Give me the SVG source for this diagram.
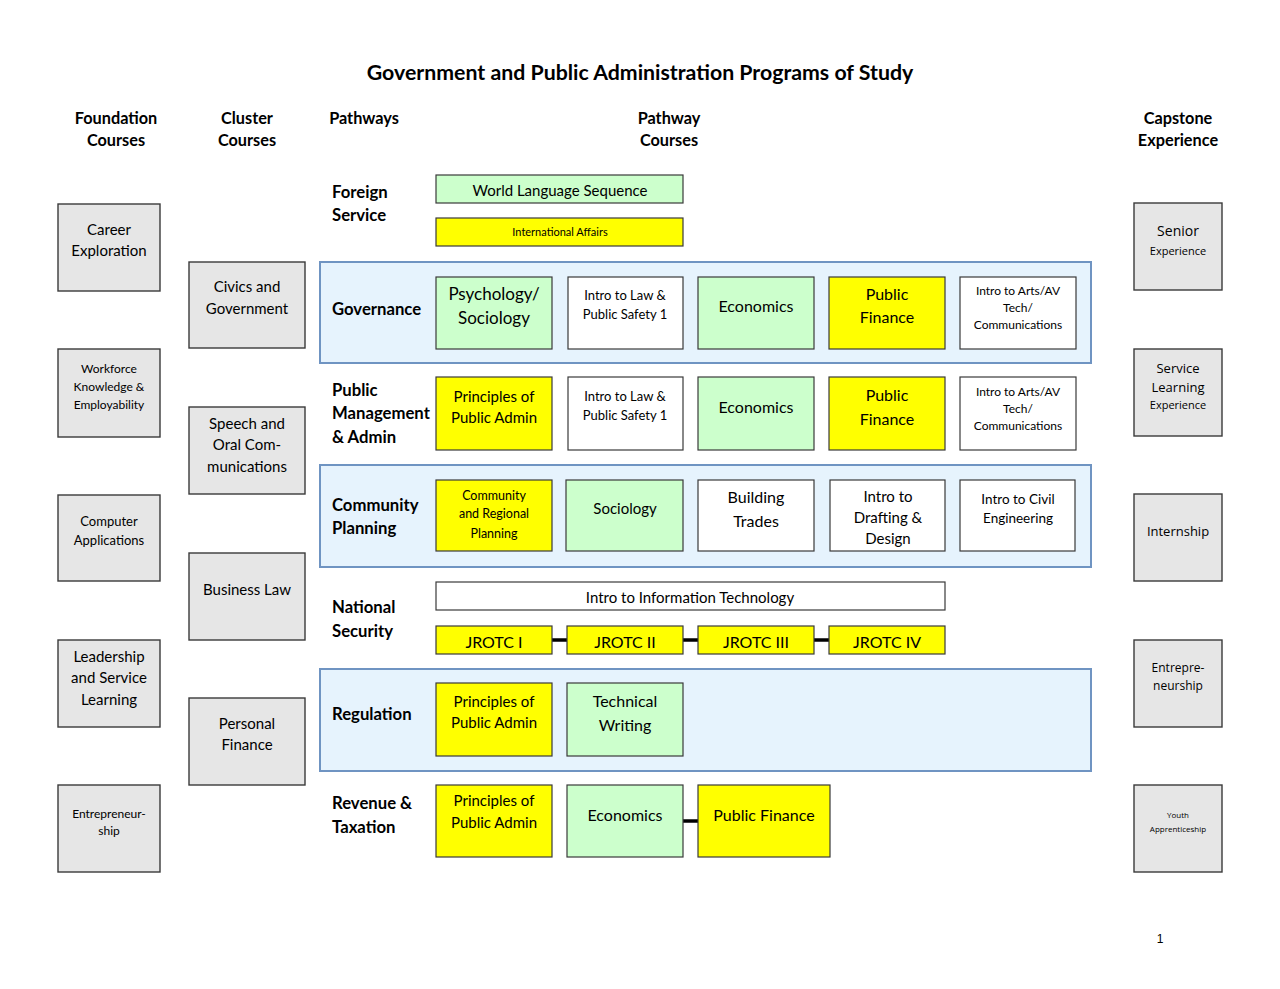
<svg xmlns="http://www.w3.org/2000/svg" width="1280" height="989" viewBox="0 0 1280 989">
<style>
text{font-family:Lato,"Open Sans","Liberation Sans",sans-serif;fill:#000;text-anchor:middle}
.h{font-weight:bold;font-size:16.3px}
.lab{font-weight:bold;font-size:16.7px;text-anchor:start}
.gray{fill:#e6e6e6;stroke:#3a3a3a;stroke-width:1.4}
.g{fill:#ccffcc;stroke:#3a3a3a;stroke-width:1.2}
.y{fill:#ffff00;stroke:#3a3a3a;stroke-width:1.2}
.w{fill:#ffffff;stroke:#3a3a3a;stroke-width:1.2}
.band{fill:#e6f3fd;stroke:#6f94c2;stroke-width:2}
.cap{font-family:"Open Sans","Liberation Sans",sans-serif}
.conn line{stroke:#000;stroke-width:3.5}
</style>
<rect width="1280" height="989" fill="#fff"/>
<text x="640" y="80" style="font-weight:bold;font-size:21.3px">Government and Public Administration Programs of Study</text>
<g id="headers">
<text class="h" x="116" y="124">Foundation</text><text class="h" x="116" y="146">Courses</text>
<text class="h" x="247" y="124">Cluster</text><text class="h" x="247" y="146">Courses</text>
<text class="h" x="364" y="124">Pathways</text>
<text class="h" x="669" y="124">Pathway</text><text class="h" x="669" y="146">Courses</text>
<text class="h" x="1178" y="124">Capstone</text><text class="h" x="1178" y="146">Experience</text>
</g>
<g id="bands">
<rect class="band" x="320" y="262" width="771" height="101"/>
<rect class="band" x="320" y="465" width="771" height="102"/>
<rect class="band" x="320" y="669" width="771" height="102"/>
</g>
<g id="pathway-labels">
<text class="lab" x="332" y="198">Foreign</text><text class="lab" x="332" y="221">Service</text>
<text class="lab" x="332" y="315">Governance</text>
<text class="lab" x="332" y="396">Public</text><text class="lab" x="332" y="419">Management</text><text class="lab" x="332" y="443">&amp; Admin</text>
<text class="lab" x="332" y="511">Community</text><text class="lab" x="332" y="534">Planning</text>
<text class="lab" x="332" y="613">National</text><text class="lab" x="332" y="637">Security</text>
<text class="lab" x="332" y="720">Regulation</text>
<text class="lab" x="332" y="809">Revenue &amp;</text><text class="lab" x="332" y="833">Taxation</text>
</g>
<!-- Foundation -->
<g id="f-career"><rect class="gray" x="58" y="204" width="102" height="87"/><text x="109" y="235" font-size="15">Career</text><text x="109" y="256" font-size="15">Exploration</text></g>
<g id="f-workforce"><rect class="gray" x="58" y="349" width="102" height="88"/><text x="109" y="373" font-size="12">Workforce</text><text x="109" y="391" font-size="12">Knowledge &amp;</text><text x="109" y="409" font-size="12">Employability</text></g>
<g id="f-computer"><rect class="gray" x="58" y="495" width="102" height="86"/><text x="109" y="526" font-size="13">Computer</text><text x="109" y="545" font-size="13">Applications</text></g>
<g id="f-leadership"><rect class="gray" x="58" y="640" width="102" height="87"/><text x="109" y="662" font-size="15">Leadership</text><text x="109" y="683" font-size="15">and Service</text><text x="109" y="705" font-size="15">Learning</text></g>
<g id="f-entre"><rect class="gray" x="58" y="785" width="102" height="87"/><text x="109" y="818" font-size="12">Entrepreneur-</text><text x="109" y="835" font-size="12">ship</text></g>
<!-- Cluster -->
<g id="c-civics"><rect class="gray" x="189" y="262" width="116" height="86"/><text x="247" y="292" font-size="15">Civics and</text><text x="247" y="314" font-size="15">Government</text></g>
<g id="c-speech"><rect class="gray" x="189" y="407" width="116" height="87"/><text x="247" y="429" font-size="15">Speech and</text><text x="247" y="450" font-size="15">Oral Com-</text><text x="247" y="472" font-size="15">munications</text></g>
<g id="c-buslaw"><rect class="gray" x="189" y="553" width="116" height="87"/><text x="247" y="595" font-size="15">Business Law</text></g>
<g id="c-personal"><rect class="gray" x="189" y="698" width="116" height="87"/><text x="247" y="729" font-size="15">Personal</text><text x="247" y="750" font-size="15">Finance</text></g>
<!-- Capstone -->
<g id="k-senior"><rect class="gray" x="1134" y="203" width="88" height="87"/><text class="cap" x="1178" y="236" font-size="14">Senior</text><text class="cap" x="1178" y="255" font-size="11">Experience</text></g>
<g id="k-service"><rect class="gray" x="1134" y="349" width="88" height="87"/><text class="cap" x="1178" y="373" font-size="13">Service</text><text class="cap" x="1178" y="392" font-size="13">Learning</text><text class="cap" x="1178" y="409" font-size="11">Experience</text></g>
<g id="k-intern"><rect class="gray" x="1134" y="494" width="88" height="87"/><text class="cap" x="1178" y="536" font-size="13">Internship</text></g>
<g id="k-entre"><rect class="gray" x="1134" y="640" width="88" height="87"/><text class="cap" x="1178" y="672" font-size="12">Entrepre-</text><text class="cap" x="1178" y="690" font-size="12">neurship</text></g>
<g id="k-youth"><rect class="gray" x="1134" y="785" width="88" height="87"/><text class="cap" x="1178" y="818" font-size="8">Youth</text><text class="cap" x="1178" y="832" font-size="8">Apprenticeship</text></g>
<!-- Foreign Service -->
<g id="fs-world"><rect class="g" x="436" y="175" width="247" height="28"/><text x="560" y="196" font-size="15">World Language Sequence</text></g>
<g id="fs-intl"><rect class="y" x="436" y="218" width="247" height="28"/><text x="560" y="236" font-size="11">International Affairs</text></g>
<!-- Governance -->
<g id="gv-psych"><rect class="g" x="436" y="277" width="116" height="72"/><text x="494" y="300" font-size="17">Psychology/</text><text x="494" y="324" font-size="17">Sociology</text></g>
<g id="gv-law"><rect class="w" x="568" y="277" width="115" height="72"/><text x="625" y="300" font-size="13">Intro to Law &amp;</text><text x="625" y="319" font-size="13">Public Safety 1</text></g>
<g id="gv-econ"><rect class="g" x="698" y="277" width="116" height="72"/><text x="756" y="312" font-size="16">Economics</text></g>
<g id="gv-pf"><rect class="y" x="829" y="277" width="116" height="72"/><text x="887" y="300" font-size="16">Public</text><text x="887" y="323" font-size="16">Finance</text></g>
<g id="gv-arts"><rect class="w" x="960" y="277" width="116" height="72"/><text x="1018" y="295" font-size="12">Intro to Arts/AV</text><text x="1018" y="312" font-size="12">Tech/</text><text x="1018" y="329" font-size="12">Communications</text></g>
<!-- Public Management -->
<g id="pm-ppa"><rect class="y" x="436" y="377" width="116" height="73"/><text x="494" y="402" font-size="15">Principles of</text><text x="494" y="423" font-size="15">Public Admin</text></g>
<g id="pm-law"><rect class="w" x="568" y="377" width="115" height="73"/><text x="625" y="401" font-size="13">Intro to Law &amp;</text><text x="625" y="420" font-size="13">Public Safety 1</text></g>
<g id="pm-econ"><rect class="g" x="698" y="377" width="116" height="73"/><text x="756" y="413" font-size="16">Economics</text></g>
<g id="pm-pf"><rect class="y" x="829" y="377" width="116" height="73"/><text x="887" y="401" font-size="16">Public</text><text x="887" y="425" font-size="16">Finance</text></g>
<g id="pm-arts"><rect class="w" x="960" y="377" width="116" height="73"/><text x="1018" y="396" font-size="12">Intro to Arts/AV</text><text x="1018" y="413" font-size="12">Tech/</text><text x="1018" y="430" font-size="12">Communications</text></g>
<!-- Community Planning -->
<g id="cp-crp"><rect class="y" x="436" y="480" width="116" height="71"/><text x="494" y="500" font-size="12.5">Community</text><text x="494" y="518" font-size="12.5">and Regional</text><text x="494" y="538" font-size="12.5">Planning</text></g>
<g id="cp-soc"><rect class="g" x="566" y="480" width="117" height="71"/><text x="625" y="514" font-size="15">Sociology</text></g>
<g id="cp-build"><rect class="w" x="698" y="480" width="116" height="71"/><text x="756" y="503" font-size="16">Building</text><text x="756" y="527" font-size="16">Trades</text></g>
<g id="cp-draft"><rect class="w" x="830" y="480" width="115" height="71"/><text x="888" y="502" font-size="15">Intro to</text><text x="888" y="523" font-size="15">Drafting &amp;</text><text x="888" y="544" font-size="15">Design</text></g>
<g id="cp-civil"><rect class="w" x="960" y="480" width="115" height="71"/><text x="1018" y="504" font-size="13.5">Intro to Civil</text><text x="1018" y="523" font-size="13.5">Engineering</text></g>
<!-- National Security -->
<g id="ns-it"><rect class="w" x="436" y="582" width="509" height="28"/><text x="690" y="603" font-size="15">Intro to Information Technology</text></g>
<g id="connectors" class="conn">
<line x1="552" y1="640" x2="567" y2="640"/>
<line x1="683" y1="640" x2="698" y2="640"/>
<line x1="814" y1="640" x2="829" y2="640"/>
<line x1="683" y1="821" x2="698" y2="821"/>
</g>
<g id="ns-j1"><rect class="y" x="436" y="626" width="116" height="28"/><text x="494" y="648" font-size="16">JROTC I</text></g>
<g id="ns-j2"><rect class="y" x="567" y="626" width="116" height="28"/><text x="625" y="648" font-size="16">JROTC II</text></g>
<g id="ns-j3"><rect class="y" x="698" y="626" width="116" height="28"/><text x="756" y="648" font-size="16">JROTC III</text></g>
<g id="ns-j4"><rect class="y" x="829" y="626" width="116" height="28"/><text x="887" y="648" font-size="16">JROTC IV</text></g>
<!-- Regulation -->
<g id="rg-ppa"><rect class="y" x="436" y="683" width="116" height="73"/><text x="494" y="707" font-size="15">Principles of</text><text x="494" y="728" font-size="15">Public Admin</text></g>
<g id="rg-tw"><rect class="g" x="567" y="683" width="116" height="73"/><text x="625" y="707" font-size="16">Technical</text><text x="625" y="731" font-size="16">Writing</text></g>
<!-- Revenue -->
<g id="rv-ppa"><rect class="y" x="436" y="785" width="116" height="72"/><text x="494" y="806" font-size="15">Principles of</text><text x="494" y="828" font-size="15">Public Admin</text></g>
<g id="rv-econ"><rect class="g" x="567" y="785" width="116" height="72"/><text x="625" y="821" font-size="16">Economics</text></g>
<g id="rv-pf"><rect class="y" x="698" y="785" width="132" height="72"/><text x="764" y="821" font-size="16">Public Finance</text></g>
<text x="1160" y="943" font-size="12" style="font-family:'Liberation Sans',sans-serif">1</text>
</svg>
